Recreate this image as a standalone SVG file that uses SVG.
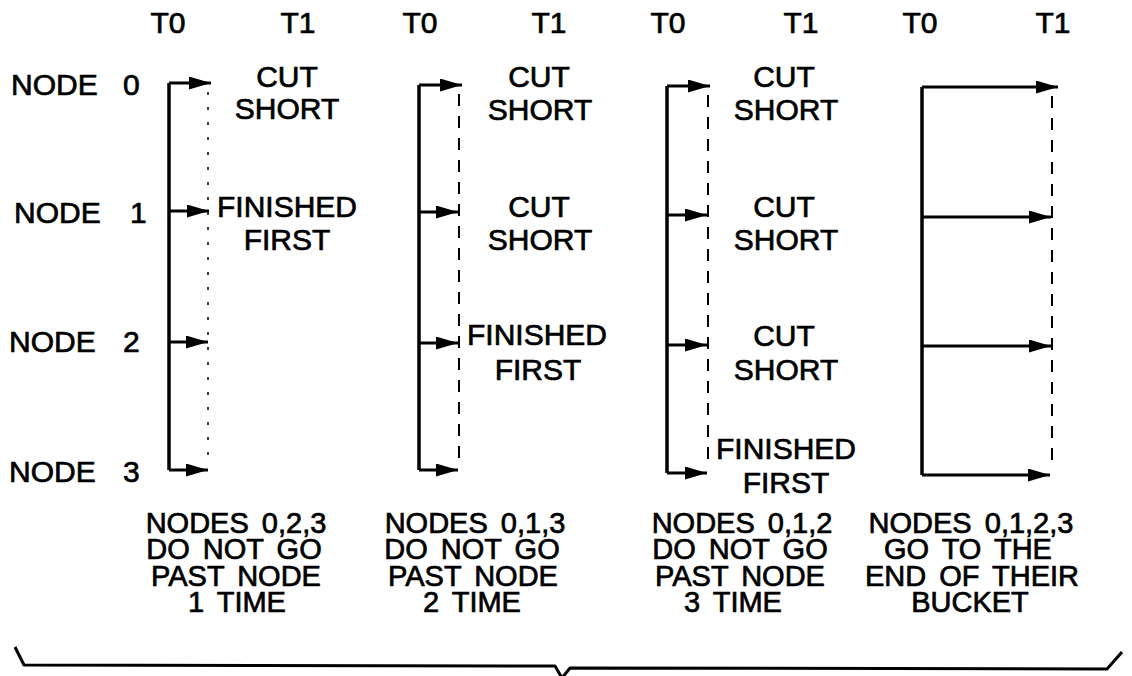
<svg xmlns="http://www.w3.org/2000/svg" width="1132" height="676" viewBox="0 0 1132 676">
<style>
text{font-family:"Liberation Sans",Arial,sans-serif;fill:#000;stroke:#000;stroke-width:0.7}
.h{font-size:30px;text-anchor:middle}
.lbl{font-size:30px}
.t{font-size:30px;text-anchor:middle}
.b{font-size:29px;text-anchor:middle;word-spacing:5px}
.bus{stroke:#000;stroke-width:3.5;fill:none}
.arr{stroke:#000;stroke-width:3;fill:none;marker-end:url(#ah)}
.dash{stroke:#000;stroke-width:2;fill:none;stroke-dasharray:12 10}
.dot{stroke:#000;stroke-width:1.5;fill:none;stroke-dasharray:3 12}
.brace{stroke:#000;stroke-width:3;fill:none;stroke-linejoin:round}
</style>
<defs>
<marker id="ah" viewBox="0 0 22 13" refX="22" refY="6.5" markerWidth="22" markerHeight="13" markerUnits="userSpaceOnUse" orient="auto">
<path d="M0,0 L22,6.5 L0,13 Z" fill="#000"/>
</marker>
</defs>
<rect width="1132" height="676" fill="#fff"/>

<g id="headers">
<text class="h" x="168" y="33">T0</text>
<text class="h" x="298" y="33">T1</text>
<text class="h" x="420" y="33">T0</text>
<text class="h" x="549" y="33">T1</text>
<text class="h" x="668" y="33">T0</text>
<text class="h" x="801" y="33">T1</text>
<text class="h" x="920" y="33">T0</text>
<text class="h" x="1053" y="33">T1</text>
</g>

<g id="node-labels">
<text id="node0" class="lbl" x="11" y="95">NODE <tspan x="123">0</tspan></text>
<text id="node1" class="lbl" x="14" y="223">NODE <tspan x="130">1</tspan></text>
<text id="node2" class="lbl" x="9" y="352">NODE <tspan x="123">2</tspan></text>
<text id="node3" class="lbl" x="9" y="482">NODE <tspan x="123">3</tspan></text>
</g>

<g id="connectors">
<!-- panel 1 -->
<path class="bus" d="M169,83 V470"/>
<path class="arr" d="M169,83 H211"/>
<path class="arr" d="M169,211 H209"/>
<path class="arr" d="M169,342 H208"/>
<path class="arr" d="M169,470 H208"/>
<path class="dot" d="M208,92 V465"/>
<!-- panel 2 -->
<path class="bus" d="M419,85 V470"/>
<path class="arr" d="M419,85 H462"/>
<path class="arr" d="M419,212 H458"/>
<path class="arr" d="M419,343 H458"/>
<path class="arr" d="M419,470 H458"/>
<path class="dash" d="M459,94 V465"/>
<!-- panel 3 -->
<path class="bus" d="M667,86 V473"/>
<path class="arr" d="M667,86 H710"/>
<path class="arr" d="M667,215 H707"/>
<path class="arr" d="M667,345 H707"/>
<path class="arr" d="M667,473 H707"/>
<path class="dash" d="M708,95 V468"/>
<!-- panel 4 -->
<path class="bus" d="M922,87 V475"/>
<path class="arr" d="M922,87 H1058"/>
<path class="arr" d="M922,217 H1051"/>
<path class="arr" d="M922,346 H1051"/>
<path class="arr" d="M922,475 H1050"/>
<path class="dash" d="M1052,96 V470"/>
</g>

<g id="panel1">
<text class="t" x="287" y="87">CUT</text>
<text class="t" x="287" y="119">SHORT</text>
<text class="t" x="287" y="217">FINISHED</text>
<text class="t" x="287" y="250">FIRST</text>
</g>
<g id="panel2">
<text class="t" x="539" y="87">CUT</text>
<text class="t" x="540" y="120">SHORT</text>
<text class="t" x="539" y="217">CUT</text>
<text class="t" x="540" y="250">SHORT</text>
<text class="t" x="537" y="345">FINISHED</text>
<text class="t" x="538" y="380">FIRST</text>
</g>
<g id="panel3">
<text class="t" x="784" y="87">CUT</text>
<text class="t" x="786" y="120">SHORT</text>
<text class="t" x="784" y="217">CUT</text>
<text class="t" x="786" y="250">SHORT</text>
<text class="t" x="784" y="346">CUT</text>
<text class="t" x="786" y="380">SHORT</text>
<text class="t" x="786" y="459">FINISHED</text>
<text class="t" x="786" y="493">FIRST</text>
</g>

<g id="captions">
<g id="caption1">
<text class="b" x="236" y="533">NODES 0,2,3</text>
<text class="b" x="234" y="559">DO NOT GO</text>
<text class="b" x="236" y="586">PAST NODE</text>
<text class="b" x="237" y="612">1 TIME</text>
</g>
<g id="caption2">
<text class="b" x="475" y="533">NODES 0,1,3</text>
<text class="b" x="472" y="559">DO NOT GO</text>
<text class="b" x="473" y="586">PAST NODE</text>
<text class="b" x="472" y="612">2 TIME</text>
</g>
<g id="caption3">
<text class="b" x="742" y="533">NODES 0,1,2</text>
<text class="b" x="740" y="559">DO NOT GO</text>
<text class="b" x="740" y="586">PAST NODE</text>
<text class="b" x="733" y="612">3 TIME</text>
</g>
<g id="caption4">
<text class="b" x="971" y="533">NODES 0,1,2,3</text>
<text class="b" x="968" y="559">GO TO THE</text>
<text class="b" x="972" y="586">END OF THEIR</text>
<text class="b" x="970" y="612">BUCKET</text>
</g>
</g>

<g id="brace">
<path class="brace" d="M15,647 L24,665 L555,666 L562,678 L570,668 L1107,669 L1122,652"/>
</g>
</svg>
